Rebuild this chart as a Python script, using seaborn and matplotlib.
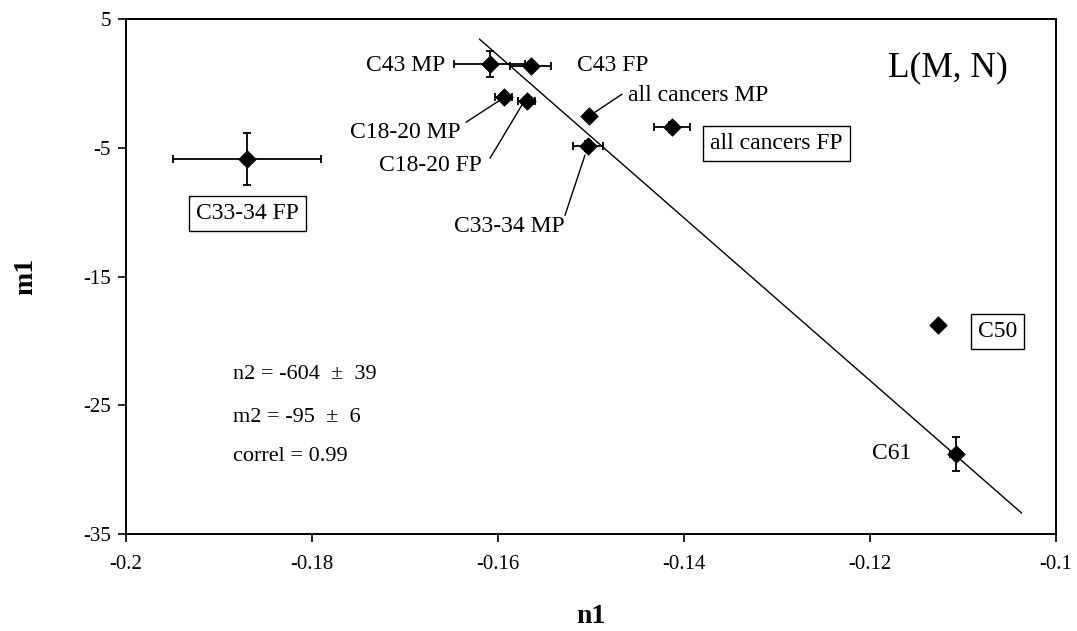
import matplotlib
matplotlib.use("Agg")
import matplotlib.pyplot as plt
import seaborn as sns
import pandas as pd

# Points: mortality coefficients for each cancer site / sex group
names = ["C43 MP", "C43 FP", "C18-20 MP", "C18-20 FP", "all cancers MP",
         "all cancers FP", "C33-34 MP", "C33-34 FP", "C50", "C61"]
n1 = [-0.1609, -0.1565, -0.1594, -0.1569, -0.1502,
      -0.1413, -0.1503, -0.1870, -0.1127, -0.1108]
m1 = [1.50, 1.34, -1.07, -1.38, -2.55,
      -3.40, -4.88, -5.89, -18.74, -28.80]
n1_err = [0.0038, 0.0022, 0.0009, 0.0009, 0.0,
          0.0019, 0.0016, 0.0080, 0.0, 0.0006]
m1_err = [1.0, 0.3, 0.3, 0.3, 0.0,
          0.4, 0.4, 2.0, 0.0, 1.3]

# Linear fit L(M, N)
fit_n = [-0.1620, -0.1037]
fit_m = [3.44, -33.37]

x_ticks = [-0.2, -0.18, -0.16, -0.14, -0.12, -0.1]
x_tick_labels = ["-0.2", "-0.18", "-0.16", "-0.14", "-0.12", "-0.1"]
y_ticks = [5, -5, -15, -25, -35]
y_tick_labels = ["5", "-5", "-15", "-25", "-35"]

stats_lines = ["n2 = -604  \u00b1  39", "m2 = -95  \u00b1  6", "correl = 0.99"]

df = pd.DataFrame({"name": names, "n1": n1, "m1": m1,
                   "n1_err": n1_err, "m1_err": m1_err})
fit_df = pd.DataFrame({"n1": fit_n, "m1": fit_m})

sns.set_theme(style="white")
plt.rcParams["font.family"] = ["Liberation Serif", "DejaVu Serif"]
plt.rcParams["text.color"] = "black"
plt.rcParams["axes.labelcolor"] = "black"

fig = plt.figure(figsize=(10.77, 6.31), dpi=100)
ax = fig.add_axes([0.117, 0.1537, 0.8635, 0.8162])

# regression line
sns.lineplot(data=fit_df, x="n1", y="m1", ax=ax, color="black",
             linewidth=1.0, sort=False)

# error bars
for _, r in df.iterrows():
    if r["n1_err"] > 0 or r["m1_err"] > 0:
        ax.errorbar(r["n1"], r["m1"],
                    xerr=r["n1_err"] if r["n1_err"] > 0 else None,
                    yerr=r["m1_err"] if r["m1_err"] > 0 else None,
                    fmt="none", ecolor="black", elinewidth=1.3,
                    capsize=3.2, capthick=1.3, zorder=3)

# diamond markers
sns.scatterplot(data=df, x="n1", y="m1", ax=ax, marker="D", s=80,
                color="black", edgecolor="black", linewidth=0.5, zorder=4,
                legend=False)

fs = 17
box = dict(boxstyle="square,pad=0.3", facecolor="white",
           edgecolor="black", linewidth=1.0)

# plain labels
ax.text(-0.1657, 1.42, "C43 MP", fontsize=fs, ha="right", va="center")
ax.text(-0.1515, 1.42, "C43 FP", fontsize=fs, ha="left", va="center")
ax.text(-0.1155, -28.77, "C61", fontsize=fs, ha="right", va="center")

# labels with leader lines
leaders = [
    ("C18-20 MP", (-0.1640, -3.80), "right", (-0.16344, -3.02), (-0.15978, -1.30)),
    ("C18-20 FP", (-0.1617, -6.40), "right", (-0.16086, -5.82), (-0.15731, -1.54)),
    ("all cancers MP", (-0.1460, -0.91), "left", (-0.14667, -0.84), (-0.14957, -2.24)),
    ("C33-34 MP", (-0.1528, -11.10), "right", (-0.15280, -10.25), (-0.15065, -5.58)),
]
for label, pos, ha, p0, p1 in leaders:
    ax.text(pos[0], pos[1], label, fontsize=fs, ha=ha, va="center")
    ax.plot([p0[0], p1[0]], [p0[1], p1[1]], color="black", linewidth=1.0)

# boxed labels
ax.text(-0.1372, -4.65, "all cancers FP", fontsize=fs, ha="left",
        va="center", bbox=box)
ax.text(-0.1869, -10.10, "C33-34 FP", fontsize=fs, ha="center",
        va="center", bbox=box)
ax.text(-0.1063, -19.25, "C50", fontsize=fs, ha="center",
        va="center", bbox=box)

ax.text(-0.1116, 1.19, "L(M, N)", fontsize=25.5, ha="center", va="center")

for i, line in enumerate(stats_lines):
    ax.text(-0.1885, [-22.63, -25.97, -29.0][i], line, fontsize=16,
            ha="left", va="center")

ax.set_xlim(-0.2, -0.1)
ax.set_ylim(-35, 5)
ax.set_xticks(x_ticks)
ax.set_xticklabels(x_tick_labels)
ax.set_yticks(y_ticks)
ax.set_yticklabels(y_tick_labels)
ax.tick_params(axis="both", direction="out", length=6, width=1.2,
               color="black", labelsize=15, labelcolor="black",
               bottom=True, left=True)
ax.tick_params(axis="x", pad=9)
ax.tick_params(axis="y", pad=5)
for sp in ax.spines.values():
    sp.set_color("black")
    sp.set_linewidth(1.4)
ax.set_xlabel("n1", fontsize=20, fontweight="bold", labelpad=22)
ax.set_ylabel("m1", fontsize=20, fontweight="bold", labelpad=32)
ax.grid(False)

fig.savefig("out.png", dpi=100)
